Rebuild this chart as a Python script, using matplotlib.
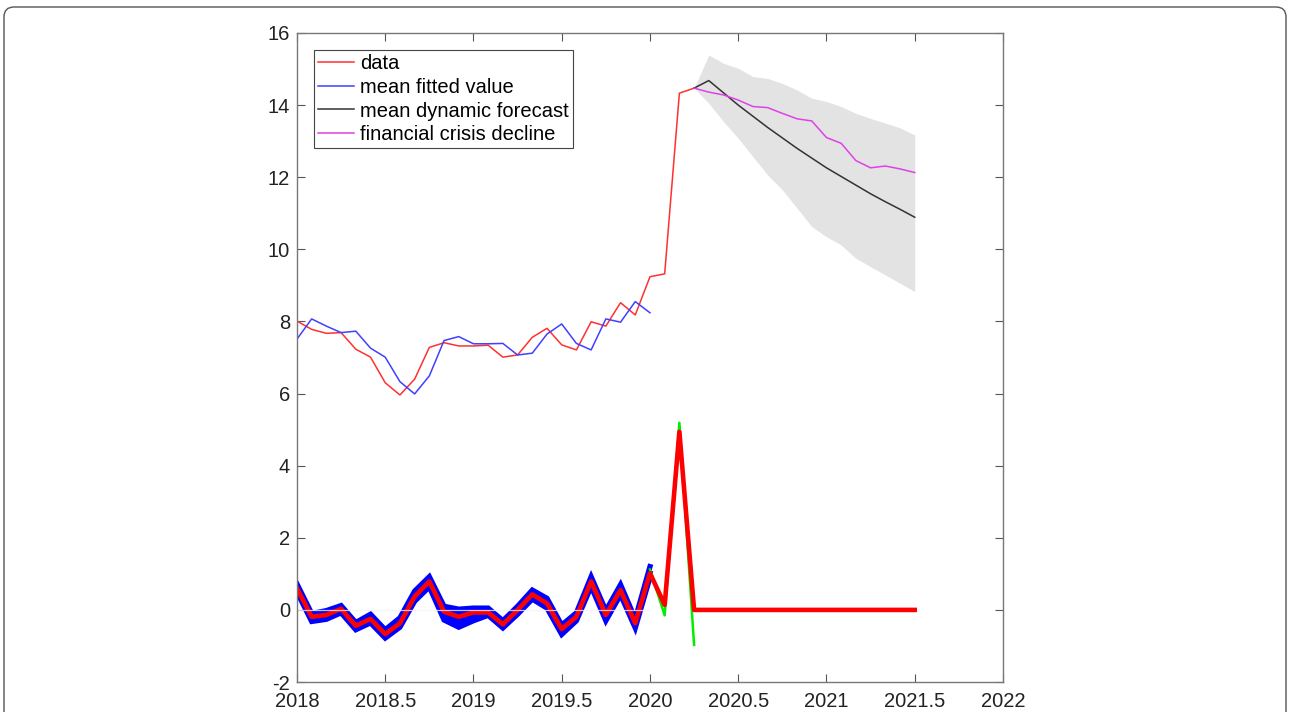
import numpy as np
import matplotlib
matplotlib.use("Agg")
import matplotlib.pyplot as plt
from matplotlib.patches import FancyBboxPatch

plt.rcParams['font.family'] = ['Liberation Sans', 'DejaVu Sans']
plt.rcParams['axes.unicode_minus'] = False

# monthly time axis
t_data = 2018 + np.arange(28) / 12.0      # 2018.0 .. 2020.25
t_fit = t_data[:25]                        # 2018.0 .. 2020.0
t_fc = 2020.25 + np.arange(16) / 12.0      # 2020.25 .. 2021.5
t_res = 2018 + np.arange(43) / 12.0        # 2018.0 .. 2021.5

data = [8.01, 7.78, 7.67, 7.69, 7.23, 7.01, 6.30, 5.96, 6.40, 7.28, 7.41, 7.32,
        7.32, 7.34, 7.01, 7.07, 7.56, 7.81, 7.35, 7.21, 7.99, 7.87, 8.52, 8.18,
        9.24, 9.32, 14.33, 14.47]
fitted = [7.51, 8.07, 7.87, 7.69, 7.73, 7.26, 7.01, 6.33, 5.99, 6.49, 7.47, 7.58,
          7.38, 7.38, 7.39, 7.07, 7.12, 7.65, 7.93, 7.39, 7.21, 8.07, 7.98, 8.55,
          8.24]
forecast = [14.47, 14.68, 14.34, 14.00, 13.69, 13.38, 13.09, 12.80, 12.53, 12.26,
            12.02, 11.78, 11.54, 11.32, 11.11, 10.89]
crisis = [14.47, 14.36, 14.28, 14.14, 13.96, 13.93, 13.77, 13.62, 13.56, 13.10,
          12.94, 12.46, 12.26, 12.31, 12.23, 12.13]
band_hi = [14.47, 15.39, 15.16, 15.02, 14.79, 14.74, 14.60, 14.42, 14.19, 14.10,
           13.96, 13.77, 13.63, 13.50, 13.37, 13.17]
band_lo = [14.47, 14.05, 13.54, 13.08, 12.57, 12.06, 11.65, 11.14, 10.63, 10.35,
           10.12, 9.75, 9.52, 9.29, 9.06, 8.83]

# lower panel: residual paths
resid = [0.60, -0.19, -0.14, 0.03, -0.44, -0.25, -0.67, -0.37, 0.37, 0.79, -0.05, -0.19,
         -0.07, -0.07, -0.40, 0.00, 0.43, 0.18, -0.53, -0.19, 0.79, -0.14, 0.55, -0.37,
         1.02, 0.14, 4.94, 0.00, 0.00, 0.00, 0.00, 0.00, 0.00, 0.00, 0.00, 0.00,
         0.00, 0.00, 0.00, 0.00, 0.00, 0.00, 0.00]
sim_hi = [0.72, -0.10, -0.02, 0.12, -0.35, -0.12, -0.55, -0.22, 0.52, 0.92, 0.10, 0.02,
          0.05, 0.05, -0.30, 0.10, 0.55, 0.32, -0.42, -0.08, 0.92, -0.02, 0.70, -0.25,
          1.20]
sim_lo = [0.50, -0.32, -0.26, -0.08, -0.55, -0.36, -0.78, -0.48, 0.24, 0.64, -0.28, -0.48,
          -0.30, -0.15, -0.50, -0.12, 0.30, 0.05, -0.68, -0.30, 0.65, -0.30, 0.42, -0.50,
          0.90]
green = [1.12, -0.15, 5.19, -0.97]
t_green = 2020 + np.arange(4) / 12.0

fig = plt.figure(figsize=(12.9, 7.12), dpi=100)
ax = fig.add_axes([0.2302, 0.0421, 0.5473, 0.9116])

# forecast band and lines
ax.fill_between(t_fc, band_lo, band_hi, color='#e3e3e3', lw=0)
ax.plot(t_data, data, color='#ff3030', lw=1.1, label='data')
ax.plot(t_fit, fitted, color='#4040ff', lw=1.1, label='mean fitted value')
ax.plot(t_fc, forecast, color='#333333', lw=1.1, label='mean dynamic forecast')
ax.plot(t_fc, crisis, color='#e040e8', lw=1.1, label='financial crisis decline')

# lower panel
ax.fill_between(t_fit, sim_lo, sim_hi, color='#0000ff', lw=0)
for s in (sim_lo, sim_hi, resid[:25]):
    ax.plot(t_fit, s, color='#0000ff', lw=3.8, solid_joinstyle='miter')
ax.plot(t_green, green, color='#00ee00', lw=1.8)
ax.plot(t_res, resid, color='#ff0000', lw=3.3)
ax.plot([2018, 2020], [0, 0], color='#f4f4f4', lw=0.9, alpha=0.8)

ax.set_xlim(2018, 2022)
ax.set_ylim(-2, 16)
ax.set_xticks(np.arange(2018, 2022.01, 0.5))
ax.set_xticklabels(['2018', '2018.5', '2019', '2019.5', '2020', '2020.5',
                    '2021', '2021.5', '2022'])
ax.set_yticks(np.arange(-2, 17, 2))
ax.tick_params(direction='in', length=6, width=0.8, color='#555555',
               top=True, right=True, labelsize=14.5, pad=5, labelcolor='#222222')
ax.tick_params(axis='x', pad=7)
for sp in ax.spines.values():
    sp.set_color('#777777')
    sp.set_linewidth(1.0)

leg = ax.legend(loc='upper left', bbox_to_anchor=(0.024, 0.974), borderaxespad=0,
                fontsize=14.5, handlelength=1.8, handletextpad=0.3, labelspacing=0.24,
                borderpad=0.2, fancybox=False, framealpha=1, edgecolor='#444444')
leg.get_frame().set_linewidth(0.8)

# outer rounded frame
frame = FancyBboxPatch((4, -30), 1282, 735, boxstyle='round,pad=0,rounding_size=10',
                       transform=None, fill=False, edgecolor='#555555', lw=1.0,
                       clip_on=False)
fig.add_artist(frame)

fig.savefig('out.png', dpi=100)
